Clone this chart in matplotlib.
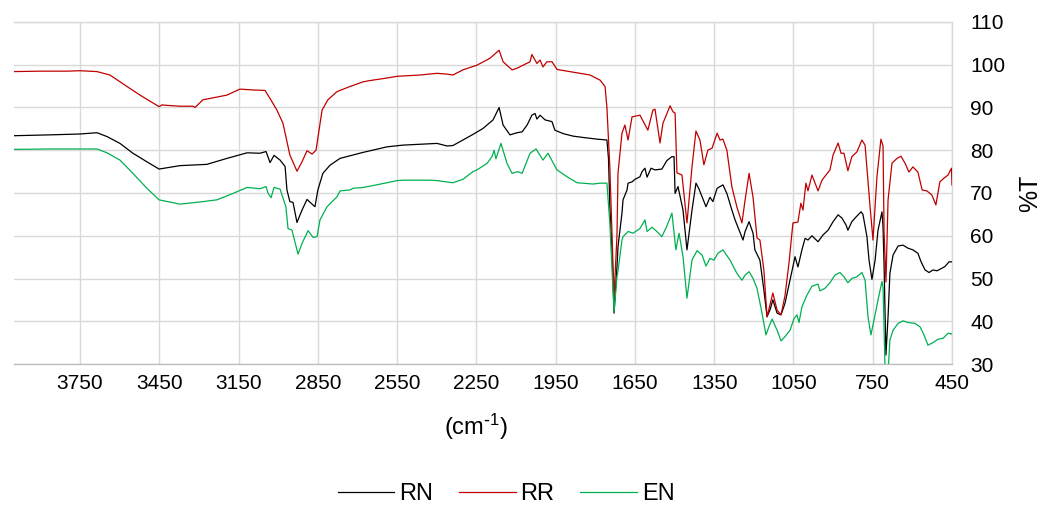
import matplotlib
matplotlib.use("Agg")
import matplotlib.pyplot as plt

plt.rcParams["font.family"] = ["Liberation Sans", "DejaVu Sans"]
plt.rcParams["mathtext.default"] = "regular"

# FTIR spectra: wavenumber (cm-1) and transmittance (%T)
rn_wn = [4000, 3864, 3750, 3686, 3648, 3599, 3550, 3497, 3451, 3372, 3270, 3194, 3118, 3069,
         3046, 3031, 3016, 2993, 2974, 2967, 2956, 2944, 2929, 2910, 2891, 2872, 2861, 2850,
         2831, 2804, 2766, 2729, 2679, 2588, 2528, 2463, 2399, 2361, 2339, 2301, 2263, 2225,
         2187, 2164, 2149, 2123, 2096, 2077, 2058, 2040, 2028, 2021, 2009, 1990, 1964, 1953,
         1922, 1884, 1847, 1794, 1756, 1750, 1745, 1737, 1729, 1718, 1714, 1699, 1695, 1680,
         1676, 1661, 1650, 1631, 1623, 1612, 1604, 1589, 1574, 1548, 1529, 1510, 1502, 1498,
         1487, 1468, 1453, 1434, 1419, 1408, 1381, 1366, 1355, 1339, 1317, 1302, 1283, 1271,
         1241, 1233, 1218, 1203, 1196, 1177, 1162, 1150, 1139, 1128, 1112, 1097, 1082, 1063,
         1044, 1033, 1018, 1006, 995, 980, 957, 938, 919, 900, 881, 866, 851, 844, 829, 813,
         794, 787, 772, 764, 753, 741, 730, 715, 711, 707, 700, 692, 685, 673, 654, 635, 617,
         598, 579, 567, 552, 537, 522, 507, 488, 477, 461, 450]
rn_t = [83.4, 83.6, 83.8, 84.1, 83.2, 81.6, 79.3, 77.3, 75.6, 76.4, 76.7, 78.1, 79.4, 79.3,
        79.7, 77.1, 78.8, 77.7, 76.2, 70.7, 68.0, 67.8, 63.1, 66.0, 68.5, 67.4, 66.8, 70.7,
        74.6, 76.5, 78.1, 78.7, 79.5, 80.8, 81.2, 81.4, 81.6, 81.0, 81.1, 82.4, 83.7, 85.1,
        87.1, 90.0, 85.9, 83.6, 84.1, 84.3, 85.9, 88.2, 88.6, 87.3, 88.2, 87.1, 86.7, 84.7,
        83.9, 83.3, 83.0, 82.6, 82.4, 78.0, 67.0, 56.7, 41.9, 52.7, 57.5, 65.3, 68.4, 70.7,
        72.3, 72.6, 73.2, 73.8, 75.0, 75.8, 73.7, 75.8, 75.4, 75.6, 77.6, 78.5, 78.5, 69.9,
        71.5, 66.0, 56.7, 66.0, 72.3, 71.0, 66.8, 69.0, 68.0, 71.1, 71.9, 69.9, 66.0, 63.7,
        59.0, 61.0, 63.3, 60.6, 56.7, 54.3, 47.3, 41.1, 42.6, 45.0, 41.9, 41.5, 44.2, 49.6,
        55.1, 52.7, 56.7, 59.4, 59.0, 60.0, 58.6, 60.2, 61.3, 63.3, 64.9, 64.1, 62.5, 61.3,
        63.3, 64.4, 65.6, 65.0, 59.8, 54.3, 49.8, 54.3, 61.3, 65.6, 62.0, 52.8, 32.1, 41.1,
        51.2, 55.5, 57.6, 57.8, 57.1, 56.7, 55.9, 53.9, 52.0, 51.4, 52.0, 51.8, 52.4, 52.8,
        53.9, 53.9]

rr_wn = [4000, 3900, 3800, 3750, 3686, 3637, 3572, 3523, 3451, 3440, 3421, 3372, 3323, 3315,
         3285, 3194, 3145, 3095, 3050, 3031, 3005, 2982, 2956, 2929, 2910, 2891, 2872, 2857,
         2834, 2812, 2778, 2729, 2679, 2653, 2588, 2550, 2463, 2399, 2361, 2339, 2301, 2248,
         2199, 2164, 2149, 2115, 2096, 2047, 2040, 2021, 2009, 1998, 1983, 1964, 1945, 1896,
         1820, 1782, 1763, 1756, 1745, 1729, 1718, 1714, 1699, 1688, 1676, 1661, 1631, 1601,
         1582, 1574, 1555, 1544, 1517, 1506, 1498, 1491, 1472, 1453, 1434, 1419, 1404, 1389,
         1374, 1358, 1339, 1328, 1317, 1302, 1283, 1264, 1245, 1233, 1218, 1203, 1188, 1177,
         1162, 1150, 1128, 1112, 1097, 1082, 1067, 1052, 1033, 1022, 1014, 1003, 995, 980,
         957, 942, 912, 900, 881, 870, 859, 844, 829, 810, 791, 779, 760, 749, 734, 719, 711,
         707, 700, 692, 677, 658, 643, 628, 613, 598, 579, 563, 545, 526, 511, 496, 480, 465,
         452, 450]
rr_t = [98.4, 98.5, 98.5, 98.6, 98.4, 97.6, 94.9, 92.9, 90.2, 90.6, 90.5, 90.3, 90.3, 90.0,
        91.8, 92.9, 94.3, 94.1, 94.0, 92.1, 89.4, 86.3, 78.9, 75.1, 77.3, 79.9, 79.1, 80.0,
        89.4, 91.8, 93.7, 94.9, 96.0, 96.3, 96.9, 97.3, 97.6, 98.0, 97.8, 97.6, 98.8, 99.9,
        101.5, 103.4, 100.7, 98.8, 99.2, 100.7, 102.4, 100.3, 101.1, 99.5, 100.7, 100.7, 98.9,
        98.4, 97.6, 96.4, 94.9, 90.0, 76.1, 45.7, 60.0, 74.7, 84.0, 85.9, 82.4, 87.8, 88.2,
        84.7, 89.4, 89.6, 81.7, 86.3, 90.4, 89.0, 88.7, 74.7, 74.2, 63.0, 76.1, 84.5, 82.4,
        76.6, 80.0, 80.5, 84.0, 82.4, 82.6, 80.0, 71.4, 66.7, 63.0, 68.4, 74.6, 69.0, 59.5,
        59.0, 52.0, 41.0, 46.6, 42.6, 41.5, 46.0, 53.6, 63.0, 63.2, 67.6, 66.0, 72.3, 70.5,
        74.2, 70.5, 73.0, 75.4, 78.9, 81.7, 79.3, 79.3, 75.2, 78.5, 79.6, 82.4, 81.2, 66.7,
        59.0, 73.8, 82.6, 81.0, 60.6, 49.2, 68.4, 77.0, 78.1, 78.6, 77.0, 74.9, 76.1, 74.9,
        70.7, 70.5, 69.5, 67.2, 72.6, 73.5, 74.2, 75.8, 71.9]

en_wn = [4000, 3864, 3750, 3686, 3648, 3599, 3550, 3497, 3451, 3372, 3296, 3232, 3171, 3118,
         3069, 3046, 3039, 3027, 3016, 2993, 2971, 2963, 2948, 2925, 2910, 2887, 2868, 2853,
         2842, 2815, 2778, 2766, 2729, 2717, 2679, 2653, 2588, 2550, 2528, 2463, 2426, 2399,
         2339, 2301, 2263, 2248, 2210, 2191, 2183, 2176, 2157, 2134, 2115, 2093, 2077, 2047,
         2024, 1998, 1979, 1945, 1907, 1869, 1809, 1782, 1756, 1745, 1737, 1729, 1718, 1714,
         1699, 1695, 1680, 1676, 1657, 1631, 1616, 1612, 1604, 1585, 1567, 1548, 1529, 1510,
         1495, 1483, 1468, 1453, 1434, 1415, 1396, 1381, 1366, 1351, 1336, 1317, 1290, 1264,
         1245, 1233, 1218, 1203, 1188, 1169, 1154, 1143, 1131, 1112, 1097, 1082, 1063, 1048,
         1037, 1029, 1018, 999, 980, 957, 950, 931, 912, 893, 874, 859, 844, 829, 810, 791,
         779, 768, 757, 745, 730, 715, 711, 704, 700, 692, 685, 673, 654, 635, 617, 590, 571,
         556, 541, 522, 503, 484, 465, 450]
en_t = [80.2, 80.3, 80.3, 80.3, 79.4, 77.7, 74.6, 71.1, 68.4, 67.4, 67.9, 68.4, 69.9, 71.3,
        71.0, 71.5, 70.0, 68.9, 71.3, 70.9, 66.8, 61.7, 61.3, 55.7, 58.2, 61.2, 59.6, 59.8,
        63.7, 66.8, 69.1, 70.5, 70.7, 71.1, 71.3, 71.6, 72.4, 72.9, 73.0, 73.0, 73.0, 72.9,
        72.4, 73.2, 75.0, 75.4, 76.9, 78.5, 80.0, 78.0, 81.6, 76.9, 74.6, 75.0, 74.6, 79.3,
        80.3, 77.7, 79.3, 75.4, 73.8, 72.4, 72.1, 72.3, 72.3, 63.0, 52.8, 42.2, 50.4, 51.8,
        59.0, 59.8, 60.7, 61.0, 60.6, 61.7, 63.3, 63.7, 61.0, 62.0, 61.0, 59.8, 62.3, 65.3,
        56.7, 60.6, 55.1, 45.4, 54.3, 56.5, 55.5, 52.9, 54.7, 54.3, 55.9, 56.7, 54.3, 51.2,
        49.6, 50.8, 51.6, 50.0, 47.7, 41.9, 36.8, 38.7, 40.5, 37.9, 35.4, 36.4, 37.9, 40.6,
        41.5, 39.7, 43.4, 46.1, 48.2, 48.7, 47.1, 47.7, 49.0, 50.8, 51.4, 50.4, 49.0, 50.0,
        50.4, 51.4, 49.6, 41.1, 36.8, 40.3, 45.0, 49.3, 48.0, 30.5, 28.0, 28.0, 35.6, 37.9,
        39.5, 40.1, 39.7, 39.5, 38.7, 36.8, 34.4, 35.0, 35.8, 36.0, 37.2, 37.0]

series_names = ["RN", "RR", "EN"]
series_colors = ["#000000", "#C00000", "#00B050"]
x_ticks = [3750, 3450, 3150, 2850, 2550, 2250, 1950, 1650, 1350, 1050, 750, 450]
y_ticks = [30, 40, 50, 60, 70, 80, 90, 100, 110]

fig = plt.figure(figsize=(10.52, 5.08), dpi=100)
ax = fig.add_axes([14 / 1052, 1 - 364 / 508, 938 / 1052, 342 / 508])

for wn, t, name, col in zip([rn_wn, rr_wn, en_wn], [rn_t, rr_t, en_t],
                            series_names, series_colors):
    ax.plot(wn, t, color=col, lw=0.9, label=name, zorder=3)

ax.set_xlim(4000, 450)
ax.set_ylim(30, 110)
ax.set_xticks(x_ticks)
ax.set_xticklabels([str(v) for v in x_ticks])
ax.set_yticks(y_ticks)
ax.yaxis.tick_right()
ax.yaxis.set_label_position("right")
ax.tick_params(axis="both", length=0, labelsize=15, labelcolor="#000000")
ax.tick_params(axis="x", pad=7)
ax.tick_params(axis="y", pad=13)
for lbl in ax.get_yticklabels():
    lbl.set_horizontalalignment("left")

ax.grid(True, color="#D9D9D9", lw=1.0, zorder=0)
ax.set_axisbelow(True)
ax.spines["left"].set_visible(False)
ax.spines["top"].set_color("#D9D9D9")
ax.spines["right"].set_color("#D9D9D9")
ax.spines["bottom"].set_color("#BFBFBF")
for s in ax.spines.values():
    s.set_linewidth(1.0)

ax.set_ylabel("%T", fontsize=18, rotation=90)
ax.yaxis.set_label_coords((1030 - 14) / 938, 0.5)
ax.yaxis.label.set_va("center")
ax.set_xlabel(r"(cm$^{\text{-}1}$)", fontsize=17)
ax.xaxis.set_label_coords((476 - 14) / 938, (364 - 427) / 342)
ax.xaxis.label.set_va("center")

handles, labels = ax.get_legend_handles_labels()
fig.legend(handles, labels, loc="center", bbox_to_anchor=(506 / 1052, 1 - 494 / 508),
           ncol=3, frameon=False, fontsize=17, handlelength=2.4, handletextpad=0.2,
           columnspacing=1.1)

fig.savefig("out.png", dpi=100)
